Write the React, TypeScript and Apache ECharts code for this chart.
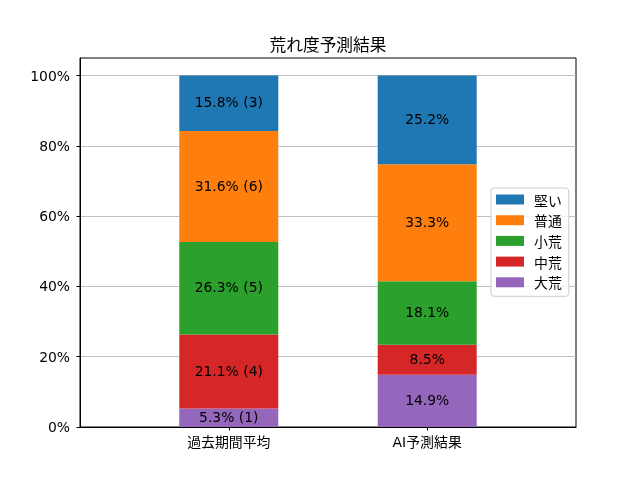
import React, { useEffect, useRef } from "react";
import * as echarts from "echarts";

const categories = ["過去期間平均", "AI予測結果"];
const levels = ["大荒", "中荒", "小荒", "普通", "堅い"];
const legendOrder = ["堅い", "普通", "小荒", "中荒", "大荒"];
// past period: counts (of 19) per level
const pastCounts = [1, 4, 5, 6, 3];
// AI prediction: percentage per level
const aiPercents = [14.9, 8.5, 18.1, 33.3, 25.2];
const colors = ["#9467bd", "#d62728", "#2ca02c", "#ff7f0e", "#1f77b4"];
const yTicks = [0, 20, 40, 60, 80, 100];

const FONT = "'DejaVu Sans', 'Noto Sans CJK JP', sans-serif";
const CJK = "'Noto Sans CJK JP', 'DejaVu Sans', sans-serif";

export default function App() {
  const ref = useRef<HTMLDivElement>(null);
  useEffect(() => {
    if (!ref.current) return;
    const chart = echarts.init(ref.current, undefined, { renderer: "svg" });
    const total = pastCounts.reduce((a, b) => a + b, 0);
    const pastPercents = pastCounts.map((c) => (c / total) * 100);

    // axis slots: blank spacer, category, blank spacer, category, blank spacer
    const slotCats = ["", categories[0], " ", categories[1], "  "];
    const catSlot = [1, 3];

    const series = levels.map((name, i) => {
      const data: any[] = slotCats.map(() => "-");
      data[catSlot[0]] = pastPercents[i];
      data[catSlot[1]] = aiPercents[i];
      return {
        name,
        type: "bar",
        stack: "total",
        barWidth: 99,
        itemStyle: { color: colors[i] },
        label: {
          show: true,
          position: "inside",
          color: "#000",
          fontSize: 13.9,
          fontFamily: FONT,
          offset: [0, -1],
          formatter: (p: any) => {
            if (p.dataIndex === catSlot[0]) {
              return `${pastPercents[i].toFixed(1)}% (${pastCounts[i]})`;
            }
            return `${aiPercents[i].toFixed(1)}%`;
          },
        },
        data,
      };
    });

    chart.setOption({
      animation: false,
      textStyle: { fontFamily: FONT },
      grid: {
        left: 80,
        right: 64,
        top: 58,
        bottom: 53,
        show: true,
        borderColor: "#000",
        borderWidth: 1,
        containLabel: false,
      },
      graphic: [
        {
          type: "text",
          x: 328,
          y: 44,
          style: {
            text: "荒れ度予測結果",
            fontSize: 16.7,
            fontFamily: CJK,
            fill: "#000",
            textAlign: "center",
            textVerticalAlign: "middle",
          },
        },
      ],
      legend: {
        orient: "vertical",
        left: 491,
        top: 188,
        data: legendOrder,
        icon: "rect",
        itemWidth: 28,
        itemHeight: 10,
        itemGap: 6.7,
        padding: [4.5, 7, 7, 5],
        backgroundColor: "rgba(255,255,255,0.8)",
        borderColor: "#cccccc",
        borderWidth: 1,
        borderRadius: 3,
        textStyle: {
          fontSize: 13.9,
          lineHeight: 14,
          color: "#000",
          fontFamily: CJK,
          padding: [0, 0, 0, 5],
        },
      },
      xAxis: {
        type: "category",
        data: slotCats,
        splitLine: { show: false },
        axisLine: { show: true, lineStyle: { color: "#000", width: 1 } },
        axisTick: {
          show: true,
          alignWithLabel: true,
          interval: (idx: number) => catSlot.includes(idx),
          length: 3.5,
          lineStyle: { color: "#000", width: 1 },
        },
        axisLabel: {
          interval: 0,
          fontSize: 13.9,
          color: "#000",
          margin: 8,
          fontFamily: FONT,
        },
      },
      yAxis: {
        type: "value",
        min: 0,
        max: 105,
        interval: 20,
        axisLine: { show: true, onZero: false, lineStyle: { color: "#000", width: 1 } },
        axisTick: {
          show: true,
          customValues: yTicks,
          length: 3.5,
          lineStyle: { color: "#000", width: 1 },
        },
        axisLabel: {
          customValues: yTicks,
          formatter: (v: number) => `${v}%`,
          fontSize: 13.9,
          color: "#000",
          margin: 10,
          fontFamily: FONT,
        },
        splitLine: { show: true, lineStyle: { color: "#b0b0b0", width: 0.8 } },
      },
      series,
    });
    return () => chart.dispose();
  }, []);
  return (
    <div
      ref={ref}
      style={{ position: "fixed", left: 0, top: 0, width: 640, height: 480 }}
    />
  );
}
